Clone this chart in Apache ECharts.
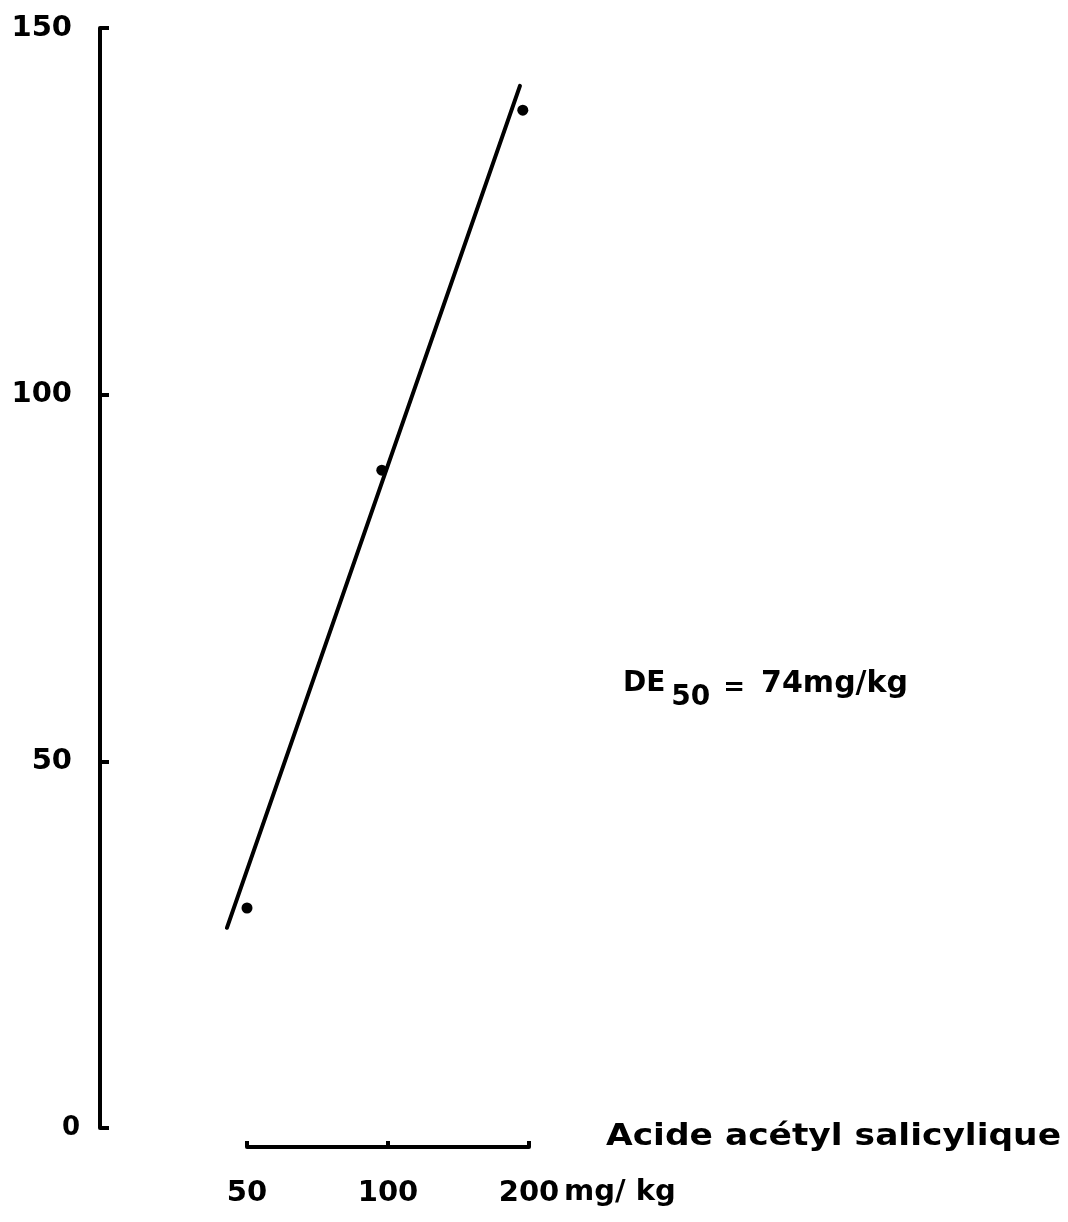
<!DOCTYPE html>
<html>
<head>
<meta charset="utf-8">
<script src="https://cdn.jsdelivr.net/npm/echarts@6/dist/echarts.min.js"></script>
<style>
html,body{margin:0;padding:0;background:#ffffff;}
#chart{width:1068px;height:1222px;}
</style>
</head>
<body>
<div id="chart"></div>
<script>
// ---- data ----
const doseTicks = [50, 100, 200];          // x tick labels (mg/kg, log scale)
const effectTicks = [0, 50, 100, 150];     // y tick labels
const pointDose = [50, 97, 194];           // measured points, x
const pointEffect = [30.0, 89.7, 138.8];   // measured points, y
const fitDose = [45.3, 191.3];             // fitted line ends, x
const fitEffect = [27.3, 142.1];           // fitted line ends, y
const xUnit = 'mg/ kg';
const xTitle = 'Acide acétyl salicylique';
const edPrefix = 'DE';
const edSub = '50';
const edValue = '74mg/kg';

const FONT = 'DejaVu Sans';
const INK = '#000000';

// ---- layout ----
const gridLeft = 247, gridWidth = 282, gridTop = 28, gridBottom = 94;
const W = 1068;
const xMin = doseTicks[0], xMax = doseTicks[doseTicks.length - 1];
// wider, invisible twin of the log axis so the fitted line may run past 50
const fitAxisMin = 40;
const pxPerLog = gridWidth / Math.log2(xMax / xMin);
const fitLeft = gridLeft + gridWidth - pxPerLog * Math.log2(xMax / fitAxisMin);

const points = pointDose.map((d, i) => [d, pointEffect[i]]);
const fit = fitDose.map((d, i) => [d, fitEffect[i]]);

// scale for the widely spaced axis title
const mctx = document.createElement('canvas').getContext('2d');
mctx.font = 'bold 30px "DejaVu Sans"';
const titleScale = 455 / mctx.measureText(xTitle).width;

const labelFont = {fontFamily: FONT, fontWeight: 'bold', color: INK};

const chart = echarts.init(document.getElementById('chart'), null, {renderer: 'canvas'});
chart.setOption({
  backgroundColor: '#ffffff',
  animation: false,
  textStyle: {fontFamily: FONT, color: INK},
  grid: [
    {left: gridLeft, right: W - gridLeft - gridWidth, top: gridTop, bottom: gridBottom, containLabel: false},
    {left: fitLeft, right: W - gridLeft - gridWidth, top: gridTop, bottom: gridBottom, containLabel: false}
  ],
  xAxis: [
    {
      gridIndex: 0,
      type: 'log',
      logBase: 2,
      min: xMin,
      max: xMax,
      offset: 19,
      axisLine: {show: true, onZero: false, lineStyle: {color: INK, width: 4, cap: 'round'}},
      axisTick: {show: true, inside: true, length: 6, customValues: doseTicks, lineStyle: {color: INK, width: 4}},
      axisLabel: Object.assign({show: true, customValues: doseTicks, margin: 32, fontSize: 29,
        formatter: v => String(Math.round(v))}, labelFont),
      splitLine: {show: false},
      minorTick: {show: false}
    },
    {
      gridIndex: 1,
      type: 'log',
      logBase: 2,
      min: fitAxisMin,
      max: xMax,
      show: false
    }
  ],
  yAxis: [
    {
      gridIndex: 0,
      type: 'value',
      min: effectTicks[0],
      max: effectTicks[effectTicks.length - 1],
      interval: 50,
      offset: 147,
      axisLine: {show: true, onZero: false, lineStyle: {color: INK, width: 4}},
      axisTick: {show: true, inside: true, length: 9, lineStyle: {color: INK, width: 4}},
      axisLabel: Object.assign({show: true, margin: 20, fontSize: 29,
        formatter: v => v === 0 ? '{z|0}' : '{n|' + v + '}',
        rich: {
          z: {fontSize: 26, fontFamily: FONT, fontWeight: 'bold', color: INK},
          n: {fontSize: 29, fontFamily: FONT, fontWeight: 'bold', color: INK, padding: [0, 8, 0, 0]}
        }}, labelFont),
      splitLine: {show: false}
    },
    {
      gridIndex: 1,
      type: 'value',
      min: effectTicks[0],
      max: effectTicks[effectTicks.length - 1],
      interval: 50,
      show: false
    }
  ],
  series: [
    {
      type: 'line',
      xAxisIndex: 1,
      yAxisIndex: 1,
      data: fit,
      clip: false,
      symbol: 'none',
      lineStyle: {color: INK, width: 4, cap: 'round'},
      silent: true
    },
    {
      type: 'scatter',
      xAxisIndex: 0,
      yAxisIndex: 0,
      data: points,
      clip: false,
      symbol: 'circle',
      symbolSize: 11,
      itemStyle: {color: INK, opacity: 1},
      silent: true
    }
  ],
  graphic: [
    {
      type: 'text',
      x: 564, y: 1192,
      style: {text: xUnit, x: 0, y: 0, fill: INK, font: 'bold 29px "DejaVu Sans"', align: 'left', verticalAlign: 'middle'}
    },
    {
      type: 'text',
      x: 606, y: 1137,
      scaleX: titleScale,
      style: {text: xTitle, x: 0, y: 0, fill: INK, font: 'bold 30px "DejaVu Sans"', align: 'left', verticalAlign: 'middle'}
    },
    {
      type: 'text',
      x: 623, y: 670,
      style: {
        x: 0, y: 0, align: 'left', verticalAlign: 'top',
        text: '{a|' + edPrefix + '}{s|' + edSub + '}{e|=}{b|' + edValue + '}',
        rich: {
          a: {fontSize: 28, fontFamily: FONT, fontWeight: 'bold', color: INK, verticalAlign: 'top'},
          s: {fontSize: 28, fontFamily: FONT, fontWeight: 'bold', color: INK, verticalAlign: 'top', padding: [14, 0, 0, 6]},
          e: {fontSize: 26, fontFamily: FONT, fontWeight: 'bold', color: INK, verticalAlign: 'top', padding: [5, 0, 0, 13]},
          b: {fontSize: 30, fontFamily: FONT, fontWeight: 'bold', color: INK, verticalAlign: 'top', padding: [-1, 0, 0, 16]}
        }
      }
    }
  ]
});
</script>
</body>
</html>
